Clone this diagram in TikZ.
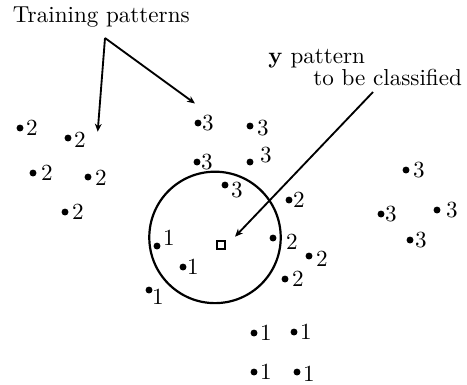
\documentclass[tikz,border=0pt]{standalone}
\usetikzlibrary{arrows.meta,positioning}
\tikzset{
  patdot/.style={circle, fill=black, inner sep=0pt, minimum size=3pt},
  patnum/.style={inner sep=0pt, font=\normalsize},
  txtnode/.style={inner sep=0pt, anchor=base west, font=\normalsize},
  arr/.style={-{Stealth[length=3.4pt,width=2.9pt,inset=1pt]}, line width=0.8pt}}
\begin{document}
\begin{tikzpicture}[x=0.4329pt, y=-0.4329pt,
    nbhd/.style={draw, circle, line width=0.95pt, inner sep=0pt, minimum size=56.9pt},
    query/.style={draw, line width=0.9pt, inner sep=0pt, minimum size=3.7pt}]
  \useasboundingbox (0,0) rectangle (467,384);
  % labelled training patterns: dot x/y, class, label x/y
  \foreach \px/\py/\c/\lx/\ly [count=\i] in {
      20/128/2/32/128, 68/138/2/80/140, 33/173/2/47/173, 88/177/2/101/178,
      65/212/2/78/212, 198/123/3/208/123, 250/126/3/263/128, 197/162/3/207/162,
      250/162/3/266/155, 225/185/3/237/190, 289/200/2/299/200, 273/238/2/292/242,
      309/256/2/322/259, 285/279/2/298/279, 406/170/3/419/170, 381/214/3/391/214,
      437/210/3/452/210, 410/240/3/421/240, 157/246/1/169/238, 183/267/1/193/267,
      149/290/1/158/297, 254/333/1/266/333, 294/332/1/306/332, 254/372/1/266/372,
      297/372/1/309/374} {
    \node[patdot] (p\i) at (\px,\py) {};
    \node[patnum] (n\i) at (\lx,\ly) {\c};
  }
  \node[nbhd] (knn) at (215,237.4) {};
  \node[query] (y) at (221,245) {};
  \node[txtnode] (train) at (12.5,22) {Training patterns};
  \node[txtnode] (ypat) at (268,63) {$\mathbf{y}$ pattern};
  \node[txtnode] (ycls) at (313,85) {to be classified};
  \coordinate (fork) at (105,38);
  \coordinate (tleft) at (97.7,131.7);
  \coordinate (tright) at (195,103.5);
  \coordinate (ystart) at (373,92);
  \coordinate (yend) at (235,236.7);
  \draw[arr] (fork) -- (tleft);
  \draw[arr] (fork) -- (tright);
  \draw[arr] (ystart) -- (yend);
\end{tikzpicture}
\end{document}
